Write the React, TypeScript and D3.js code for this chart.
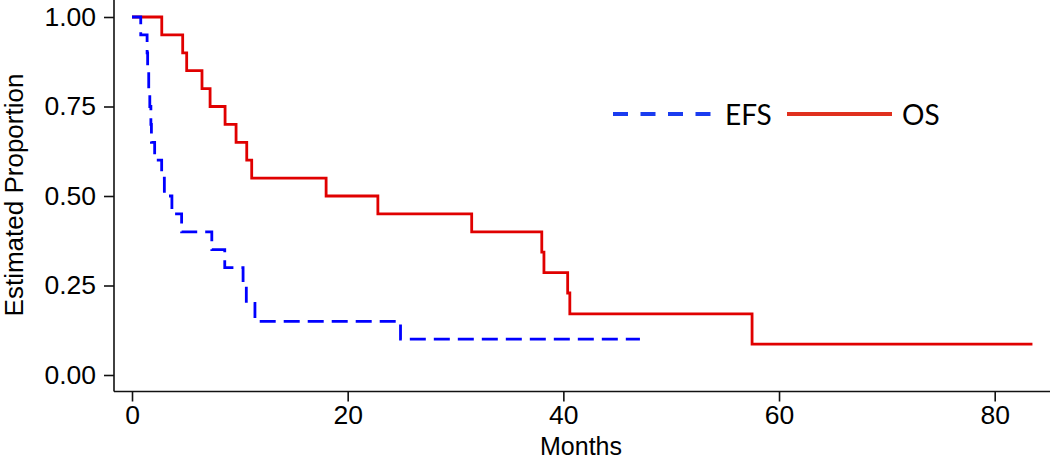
import React, { useEffect, useRef } from 'react';
import * as d3 from 'd3';

// Kaplan-Meier step data (months, proportion)
const efsTimes = [0, 0.81, 1.4, 1.45, 1.55, 1.65, 1.75, 1.8, 2.1, 2.75, 3.0, 3.7, 4.6, 7.4, 8.6, 10.3, 10.6, 11.4, 24.9, 47.1];
const efsValues = [1, 0.95, 0.9, 0.85, 0.8, 0.75, 0.7, 0.65, 0.6, 0.55, 0.5, 0.45, 0.4, 0.35, 0.3, 0.25, 0.2, 0.15, 0.1, 0.1];

const osTimes = [0, 2.76, 4.7, 5.07, 6.49, 7.24, 8.63, 9.65, 10.64, 11.1, 18.0, 22.8, 31.5, 38.0, 38.2, 40.4, 40.6, 57.5, 83.5];
const osValues = [1, 0.95, 0.9, 0.85, 0.8, 0.75, 0.7, 0.65, 0.6, 0.55, 0.5, 0.45, 0.4, 0.343, 0.286, 0.229, 0.171, 0.086, 0.086];

const xTicks = [0, 20, 40, 60, 80];
const yTicks = [0, 0.25, 0.5, 0.75, 1];

const App = () => {
  const ref = useRef<SVGSVGElement>(null);

  useEffect(() => {
    const svg = d3.select(ref.current);
    svg.selectAll('*').remove();

    const x = d3.scaleLinear().domain([-1.67, 84.85]).range([114, 1047]);
    const y = d3.scaleLinear().domain([0, 1]).range([375, 17]);
    const font = '"Liberation Sans", Arial, Helvetica, sans-serif';

    // axes
    const xAxis = svg.append('g').attr('transform', 'translate(0,391.5)');
    xAxis.call(d3.axisBottom(x).tickValues(xTicks).tickSize(10).tickPadding(4).tickSizeOuter(0));
    const yAxis = svg.append('g').attr('transform', 'translate(114,0)');
    yAxis.call(d3.axisLeft(y).tickValues(yTicks).tickFormat(d3.format('.2f')).tickSize(10).tickPadding(8).tickSizeOuter(0));

    [xAxis, yAxis].forEach((g) => {
      g.select('.domain').attr('stroke', '#111').attr('stroke-width', 1.6);
      g.selectAll('.tick line').attr('stroke', '#111').attr('stroke-width', 1.6);
      g.selectAll('.tick text').attr('font-family', font).attr('font-size', 26.5).attr('fill', '#000');
    });
    // extend the axis lines like the original frame
    yAxis.select('.domain').attr('d', 'M0,0V391.5');
    xAxis.select('.domain').attr('d', 'M114,0H1050');

    // curves
    const line = d3.line<[number, number]>()
      .x((d) => x(d[0]))
      .y((d) => y(d[1]))
      .curve(d3.curveStepAfter);

    svg.append('path')
      .datum(osTimes.map((t, i) => [t, osValues[i]] as [number, number]))
      .attr('d', line)
      .attr('fill', 'none')
      .attr('stroke', '#e00000')
      .attr('stroke-width', 2.8);

    svg.append('path')
      .datum(efsTimes.map((t, i) => [t, efsValues[i]] as [number, number]))
      .attr('d', line)
      .attr('fill', 'none')
      .attr('stroke', '#0000ff')
      .attr('stroke-width', 2.8)
      .attr('stroke-dasharray', '16,8');

    // axis titles
    svg.append('text')
      .attr('x', 581)
      .attr('y', 454.5)
      .attr('text-anchor', 'middle')
      .attr('font-family', font)
      .attr('font-size', 25)
      .text('Months');

    svg.append('text')
      .attr('transform', 'translate(23,195) rotate(-90)')
      .attr('text-anchor', 'middle')
      .attr('font-family', font)
      .attr('font-size', 26)
      .text('Estimated Proportion');

    // legend
    const legendFont = 'Lato, "Open Sans", sans-serif';
    svg.append('line')
      .attr('x1', 613).attr('x2', 711).attr('y1', 114).attr('y2', 114)
      .attr('stroke', '#1a3cf0').attr('stroke-width', 4)
      .attr('stroke-dasharray', '15,12.5');
    svg.append('text')
      .attr('x', 725).attr('y', 125)
      .attr('font-family', legendFont).attr('font-size', 28)
      .text('EFS');
    svg.append('line')
      .attr('x1', 787).attr('x2', 892).attr('y1', 114).attr('y2', 114)
      .attr('stroke', '#e0301e').attr('stroke-width', 4);
    svg.append('text')
      .attr('x', 902).attr('y', 125)
      .attr('font-family', legendFont).attr('font-size', 28)
      .text('OS');
  }, []);

  return (
    <svg
      ref={ref}
      width={1050}
      height={460}
      style={{ position: 'absolute', left: 0, top: 0, background: '#fff' }}
    />
  );
};

export default App;
